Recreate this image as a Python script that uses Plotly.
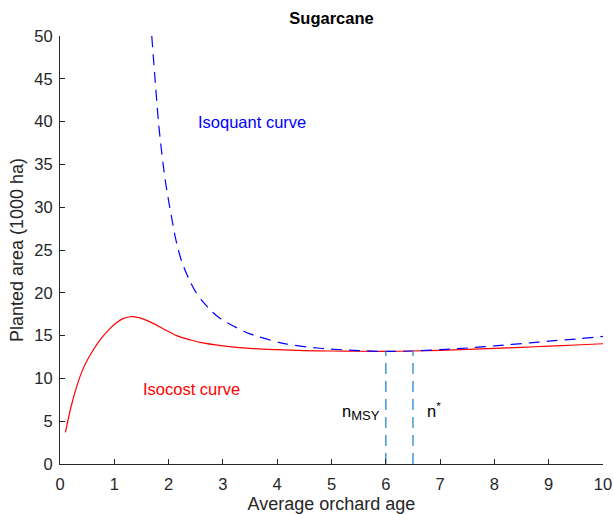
import plotly.graph_objects as go

# Isocost curve (red, solid)
isocost_x = [0.1, 0.2, 0.3, 0.43, 0.6, 0.74, 0.9, 1.04, 1.15, 1.29, 1.45, 1.66, 1.9, 2.15, 2.4, 2.58,
             3.0, 3.5, 4.0, 4.5, 5.0, 5.5, 6.0, 6.5, 7.0, 7.5, 8.0, 8.5, 9.0, 9.5, 10.0]
isocost_y = [3.7, 6.6, 8.9, 11.2, 13.2, 14.5, 15.7, 16.5, 16.95, 17.2, 17.1, 16.6, 15.8, 15.0, 14.5, 14.2,
             13.8, 13.5, 13.35, 13.25, 13.2, 13.17, 13.15, 13.2, 13.28, 13.38, 13.5, 13.63, 13.76, 13.9, 14.05]

# Isoquant curve (blue, dashed)
isoquant_x = [1.69, 1.75, 1.82, 1.93, 2.01, 2.05, 2.12, 2.18, 2.24, 2.3, 2.39, 2.5, 2.64, 2.8, 2.95, 3.2,
              3.5, 4.11, 4.73, 5.5, 6.0, 6.5, 7.0, 7.5, 8.0, 8.66, 9.0, 9.5, 10.0]
isoquant_y = [50.0, 45.0, 39.5, 33.5, 30.4, 29.0, 26.6, 25.0, 23.7, 22.7, 21.4, 20.1, 18.9, 17.8, 17.0, 16.1,
              15.2, 14.1, 13.55, 13.25, 13.15, 13.2, 13.35, 13.55, 13.8, 14.15, 14.35, 14.6, 14.9]

# Vertical markers n_MSY and n*
vline_x = [6.0, 6.5]
vline_top = [13.15, 13.2]

xticks = list(range(0, 11))
yticks = list(range(0, 55, 5))

FONT = "Liberation Sans, Arial, Helvetica, sans-serif"
AX = "#262626"

fig = go.Figure()
fig.add_trace(go.Scatter(x=isocost_x, y=isocost_y, mode="lines",
                         line=dict(color="red", width=1.2, shape="spline", smoothing=0.8),
                         showlegend=False, hoverinfo="skip"))
fig.add_trace(go.Scatter(x=isoquant_x, y=isoquant_y, mode="lines",
                         line=dict(color="blue", width=1.2, dash="11px,7px", shape="spline", smoothing=0.8),
                         showlegend=False, hoverinfo="skip"))
for vx, vt in zip(vline_x, vline_top):
    fig.add_trace(go.Scatter(x=[vx, vx], y=[0, vt], mode="lines",
                             line=dict(color="#4d9fd6", width=1.6, dash="11px,7px"),
                             showlegend=False, hoverinfo="skip"))

fig.add_annotation(x=2.5, y=40, text="Isoquant curve", showarrow=False, xanchor="left", yanchor="middle",
                   font=dict(color="blue", size=16.5, family=FONT))
fig.add_annotation(x=1.5, y=8.8, text="Isocost curve", showarrow=False, xanchor="left", yanchor="middle",
                   font=dict(color="red", size=16.5, family=FONT))
fig.add_annotation(x=5.15, y=6.0, text="n<sub><span style='font-size:13px'>MSY</span></sub>", showarrow=False,
                   xanchor="left", yanchor="middle", font=dict(color="black", size=16.5, family=FONT))
fig.add_annotation(x=6.72, y=6.3, text="n<sup>*</sup>", showarrow=False, xanchor="left", yanchor="middle",
                   font=dict(color="black", size=16.5, family=FONT))

fig.update_layout(
    width=613, height=514,
    margin=dict(l=60, r=10, t=36, b=50),
    paper_bgcolor="white", plot_bgcolor="white",
    title=dict(text="<b>Sugarcane</b>", x=(60 + 603) / 2 / 613, xanchor="center", y=1 - 18 / 514,
               yanchor="middle", font=dict(size=16.5, color="black", family=FONT)),
    font=dict(family=FONT, color=AX, size=16.5),
)
fig.update_xaxes(range=[0, 10], tickvals=xticks, ticks="inside", ticklen=5, tickcolor=AX, automargin=False,
                 showline=True, linecolor=AX, linewidth=1, showgrid=False, zeroline=False,
                 ticklabelstandoff=5,
                 tickfont=dict(size=16.5, color=AX, family=FONT),
                 title=dict(text="Average orchard age", font=dict(size=18, color=AX, family=FONT), standoff=12))
fig.update_yaxes(range=[0, 50], tickvals=yticks, ticks="inside", ticklen=5, tickcolor=AX, automargin=False,
                 showline=True, linecolor=AX, linewidth=1, showgrid=False, zeroline=False,
                 ticklabelstandoff=3,
                 tickfont=dict(size=16.5, color=AX, family=FONT),
                 title=dict(text="Planted area (1000 ha)", font=dict(size=18, color=AX, family=FONT), standoff=6))

fig.write_html("out.html")
